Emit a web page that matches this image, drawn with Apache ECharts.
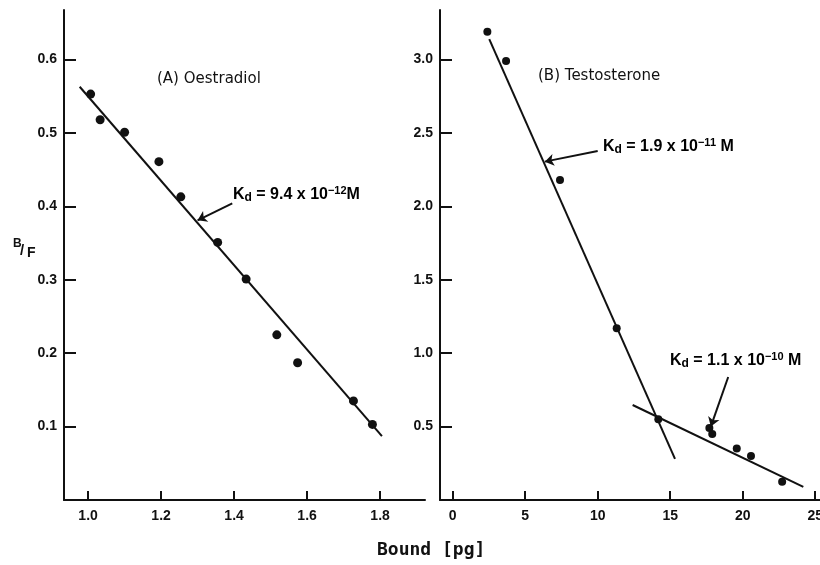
<!DOCTYPE html>
<html>
<head>
    <meta charset="utf-8">
    <title>Scatchard plots</title>
    <script src="https://cdn.jsdelivr.net/npm/echarts@6/dist/echarts.min.js"></script>
    <style>
        html, body { margin: 0; padding: 0; background: #fff; }
        #main { width: 820px; height: 565px; }
    </style>
</head>
<body>
<div id="main"></div>
<script type="text/javascript">
    // (A) Oestradiol: bound [pg] vs B/F
    var oeBound = [1.007, 1.033, 1.100, 1.194, 1.254, 1.355, 1.433, 1.517, 1.574, 1.727, 1.779];
    var oeRatio = [0.553, 0.518, 0.501, 0.461, 0.413, 0.351, 0.301, 0.225, 0.187, 0.135, 0.103];
    var oeFitX = [0.977, 1.805];
    var oeFitY = [0.563, 0.087];

    // (B) Testosterone
    var teBound = [2.39, 3.68, 7.40, 11.31, 14.18, 17.70, 17.90, 19.59, 20.57, 22.72];
    var teRatio = [3.19, 2.99, 2.18, 1.17, 0.55, 0.49, 0.45, 0.35, 0.30, 0.125];
    var teFit1X = [2.52, 15.33];
    var teFit1Y = [3.14, 0.28];
    var teFit2X = [12.41, 24.18];
    var teFit2Y = [0.647, 0.09];

    // tick labels
    var oeXTicks = [1.0, 1.2, 1.4, 1.6, 1.8];
    var oeYTicks = [0.1, 0.2, 0.3, 0.4, 0.5, 0.6];
    var teXTicks = [0, 5, 10, 15, 20, 25];
    var teYTicks = [0.5, 1.0, 1.5, 2.0, 2.5, 3.0];

    function pairs(xs, ys) {
        return xs.map(function (x, i) { return [x, ys[i]]; });
    }

    var myChart = echarts.init(document.getElementById('main'));

    var ink = '#111';
    var labelFont = {color: ink, fontSize: 14, fontWeight: 'bold', fontFamily: 'Liberation Sans'};

    function axisBase(ticks, fmt, isX) {
        return {
            type: 'value',
            axisLine: {show: true, onZero: false, lineStyle: {color: ink, width: 2}},
            axisTick: {show: true, inside: true, length: isX ? 9 : 12,
                lineStyle: {color: ink, width: 2}, customValues: ticks},
            axisLabel: Object.assign({
                customValues: ticks,
                margin: isX ? 9 : 7,
                formatter: function (v) { return fmt(v); }
            }, labelFont),
            splitLine: {show: false}
        };
    }
    var f1 = function (v) { return v.toFixed(1); };
    var f0 = function (v) { return String(Math.round(v)); };

    var kdRich = {
        k: {fontSize: 16, fontWeight: 'bold', fontFamily: 'Liberation Sans', color: ink},
        sub: {fontSize: 12, fontWeight: 'bold', fontFamily: 'Liberation Sans', color: ink, verticalAlign: 'bottom', padding: [7, 0, 0, 0]},
        sup: {fontSize: 11, fontWeight: 'bold', fontFamily: 'Liberation Sans', color: ink, verticalAlign: 'top', padding: [0, 0, 8, 0]}
    };

    function kdText(x, y, mant, exp, gap) {
        return {
            type: 'text', left: x, top: y,
            style: {
                text: '{k|K}{sub|d}{k| = ' + mant + ' x 10}{sup|\u2212' + exp + '}{k|' + gap + 'M}',
                rich: kdRich
            }
        };
    }

    var arrowStyle = {color: ink, width: 2, type: 'solid'};
    var titleStyle = {fontSize: 15, fontFamily: 'DejaVu Sans', fill: ink};

    var option = {
        backgroundColor: '#fff',
        animation: false,
        grid: [
            {left: 64, top: 10, width: 361, height: 490, outerBoundsMode: 'none'},
            {left: 440, top: 10, width: 380, height: 490, outerBoundsMode: 'none'}
        ],
        xAxis: [
            Object.assign(axisBase(oeXTicks, f1, true), {gridIndex: 0, min: 0.934, max: 1.923}),
            Object.assign(axisBase(teXTicks, f0, true), {gridIndex: 1, min: -0.876, max: 25.33})
        ],
        yAxis: [
            Object.assign(axisBase(oeYTicks, f1, false), {gridIndex: 0, min: 0, max: 0.6676}),
            Object.assign(axisBase(teYTicks, f1, false), {gridIndex: 1, min: 0, max: 3.338})
        ],
        graphic: [
            {type: 'text', left: 157, top: 72, style: Object.assign({text: '(A) Oestradiol'}, titleStyle)},
            {type: 'text', left: 538, top: 69, style: Object.assign({text: '(B) Testosterone'}, titleStyle)},
            kdText(233, 185, '9.4', '12', ''),
            kdText(603, 137, '1.9', '11', ' '),
            kdText(670, 351, '1.1', '10', ' '),
            {type: 'text', left: 13, top: 238,
                style: {text: 'B', fontSize: 12, fontWeight: 'bold', fontFamily: 'Liberation Sans', fill: ink}},
            {type: 'text', left: 20, top: 243,
                style: {text: '/', fontSize: 15, fontWeight: 'bold', fontFamily: 'Liberation Sans', fill: ink}},
            {type: 'text', left: 27, top: 246,
                style: {text: 'F', fontSize: 14, fontWeight: 'bold', fontFamily: 'Liberation Sans', fill: ink}},
            {type: 'text', left: 377, top: 541,
                style: {text: 'Bound [pg]', fontSize: 18, fontWeight: 'bold', fontFamily: 'DejaVu Sans Mono', fill: ink}}
        ],
        series: [
            {
                type: 'line', xAxisIndex: 0, yAxisIndex: 0,
                data: pairs(oeFitX, oeFitY), symbol: 'none',
                lineStyle: {color: ink, width: 2},
                markLine: {
                    silent: true, symbol: ['none', 'arrow'], symbolSize: 9,
                    lineStyle: arrowStyle, label: {show: false},
                    data: [[{coord: [1.395, 0.404]}, {coord: [1.300, 0.381]}]]
                }
            },
            {
                type: 'scatter', xAxisIndex: 0, yAxisIndex: 0,
                data: pairs(oeBound, oeRatio), symbolSize: 9,
                itemStyle: {color: ink, opacity: 1}
            },
            {
                type: 'line', xAxisIndex: 1, yAxisIndex: 1,
                data: pairs(teFit1X, teFit1Y), symbol: 'none',
                lineStyle: {color: ink, width: 2},
                markLine: {
                    silent: true, symbol: ['none', 'arrow'], symbolSize: 9,
                    lineStyle: arrowStyle, label: {show: false},
                    data: [
                        [{coord: [10.0, 2.377]}, {coord: [6.35, 2.305]}],
                        [{coord: [19.0, 0.838]}, {coord: [17.8, 0.50]}]
                    ]
                }
            },
            {
                type: 'line', xAxisIndex: 1, yAxisIndex: 1,
                data: pairs(teFit2X, teFit2Y), symbol: 'none',
                lineStyle: {color: ink, width: 2}
            },
            {
                type: 'scatter', xAxisIndex: 1, yAxisIndex: 1,
                data: pairs(teBound, teRatio), symbolSize: 8,
                itemStyle: {color: ink, opacity: 1}
            }
        ]
    };

    myChart.setOption(option);
</script>
</body>
</html>
